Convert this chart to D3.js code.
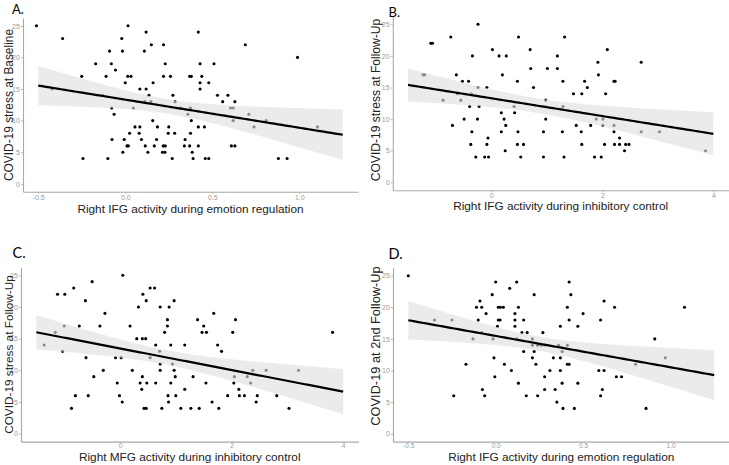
<!DOCTYPE html>
<html><head><meta charset="utf-8">
<script src="https://cdn.jsdelivr.net/npm/d3@7"></script>
<style>body{margin:0;background:#fff}svg{display:block}</style>
</head><body><svg id="c" width="729" height="465"></svg>
<script>
// ---------- DATA ----------
const xA=[-0.51,0.016, 0.12,0.42, -0.36,-0.02, 0.15,0.22,0.69, -0.09,-0.016,0.11, 0.99,
 -0.17,-0.08,0.23,0.43,0.51, -0.056,
 -0.25,-0.11,0.014,0.033,0.22,0.26,0.37,0.38,0.44,
 0.0,0.16,0.43,0.48, -0.42,0.084,0.12,0.43,
 -0.13,0.136,0.274,0.53,0.59, 0.113,0.148,0.286,0.56,0.63,
 -0.078,0.047,0.294,0.315,0.375,0.605,0.62, -0.064,0.36,0.71,
 0.158,0.38,0.62,0.81, 0.056,0.084,0.185,0.25,0.42,0.455,0.74,1.105,
 0.025,0.08,0.247,0.284,0.375, -0.076,-0.006,0.093,0.18,0.344,
 0.01,0.018,0.115,0.167,0.218,0.23,0.34,0.37,0.42,0.61,0.63,
 -0.014,0.13,0.214,0.228,0.385, -0.243,-0.1,0.27,0.39,0.46,0.48,0.88,0.93];
const yA=[25,25, 24,24, 23,23, 22,22,22, 21,21,21, 20,
 19,19,19,19,19, 18,
 17,17,17,17,17,17,17,17,17,
 16,16,16,16, 15,15,15,15,
 14,14,14,14,14, 13,13,13,13,13,
 12,12,12,12,12,12,12, 11,11,11,
 10,10,10,10, 9,9,9,9,9,9,9,9,
 8,8,8,8,8, 7,7,7,7,7,
 6,6,6,6,6,6,6,6,6,6,6,
 5,5,5,5,5, 4,4,4,4,4,4,4,4];

const xB=[-0.24, -0.73,0.49,1.32, -1.09,-1.06, 0.02,0.70,2.09, -0.34,0.14,0.27,1.19,
 1.92,2.70, 0.71,1.01,1.19, -1.23,-1.2,-0.63,0.2,1.93,
 -0.52,-0.41,0.47,1.29,1.68,2.21,2.23, -0.24,-0.08,0.76,1.73,
 -0.61,-0.36,1.48,1.63,2.06, -0.87,-0.55,0.98, -0.39,-0.22,0.41,1.29, 0.18,0.42,
 -0.49,-0.25,0.23,0.98,1.89,2.01, -0.70,0.26,1.53,1.79,2.01,2.21,
 -0.35,0.18,0.48,0.94,1.28,1.62,2.21,2.70,3.03, -0.06,2.31,
 -0.37,-0.08,0.47,0.58,1.63,2.04,2.22,2.31,2.42,2.48,
 0.25,2.40,3.86, -0.28,-0.12,-0.05,0.53,0.94,1.31,1.86,1.98];
const yB=[25, 23,23,23, 22,22, 21,21,21, 20,20,20,20,
 19,19, 18,18,18, 17,17,17,17,17,
 16,16,16,16,16,16,16, 15,15,15,15,
 14,14,14,14,14, 13,13,13, 12,12,12,12, 11,11,
 10,10,10,10,10,10, 9,9,9,9,9,9,
 8,8,8,8,8,8,8,8,8, 7,7,
 6,6,6,6,6,6,6,6,6,6,
 5,5,5, 4,4,4,4,4,4,4,4];

const xC=[0.05, -0.5, -0.83,0.54,0.62, -1.12,-0.99,0.41, -0.62,0.47,0.97, 0.33,0.72,0.88,
 -0.27,1.68, 0.85,1.39,2.07, -1.0,-0.73,-0.36,0.18,0.85,1.5,
 -1.16,0.80,1.47,1.55,2.02,3.81, 0.30,0.40,0.46,
 -1.36,0.64,0.91,1.16,1.75, -1.03,0.71,1.82, -0.61,-0.08,0.02,0.54, 0.72,0.94,
 -0.30,0.22,0.72,0.97,2.38,2.62,3.20, -0.47,0.40,0.99,1.31,2.05,2.28,
 -0.05,0.36,0.48,0.64,0.91,1.54,2.04,2.34, 0.39,1.16,2.13,
 -0.80,-0.57,-0.01,0.86,1.0,1.93,2.14,2.23,2.46,2.81,
 0.04,0.87,1.65,2.44, -0.87,0.43,0.47,0.75,1.09,1.27,1.42,1.77,3.03];
const yC=[25, 24, 23,23,23, 22,22,22, 21,21,21, 20,20,20,
 19,19, 18,18,18, 17,17,17,17,17,17,
 16,16,16,16,16,16, 15,15,15,
 14,14,14,14,14, 13,13,13, 12,12,12,12, 11,11,
 10,10,10,10,10,10,10, 9,9,9,9,9,9,
 8,8,8,8,8,8,8,8, 7,7,7,
 6,6,6,6,6,6,6,6,6,6,
 5,5,5,5, 4,4,4,4,4,4,4,4,4];

const xD=[-0.50, 0.0,0.12,0.42, 0.08, -0.02,0.22,0.43, -0.09,0.62,
 -0.11,-0.08,0.015,0.027,0.044,0.13,0.41,0.68,1.08, -0.055,0.11,0.50,
 -0.35,-0.25,-0.10,0.015,0.025,0.11,0.16,0.42,0.60, 0.01,0.11,0.37,0.47,
 -0.08,0.15,0.18,0.27, -0.13,-0.015,0.12,0.21,0.91,
 0.21,0.24,0.26,0.28,0.36,0.41, 0.16,0.22,0.38,
 -0.01,0.21,0.33,0.37,0.97, -0.17,0.05,0.23,0.41,0.42,0.80,
 0.09,0.31,0.37,0.59,0.62, -0.005,0.28,0.69,0.72, 0.13,0.38,0.47,
 -0.076,0.28,0.34,0.61, -0.24,-0.063,0.175,0.24,0.60, 0.35, 0.385,0.45,0.86];
const yD=[25, 24,24,24, 23, 22,22,22, 21,21,
 20,20,20,20,20,20,20,20,20, 19,19,19,
 18,18,18,18,18,18,18,18,18, 17,17,17,17,
 16,16,16,16, 15,15,15,15,15,
 14,14,14,14,14,14, 13,13,13,
 12,12,12,12,12, 11,11,11,11,11,11,
 10,10,10,10,10, 9,9,9,9, 8,8,8,
 7,7,7,7, 6,6,6,6,6, 5, 4,4,4];

const panelLetters=["A.","B.","C.","D."];
const xTitles=["Right IFG activity during emotion regulation","Right IFG activity during inhibitory control",
 "Right MFG activity during inhibitory control","Right IFG activity during emotion regulation"];
const yTitles=["COVID-19 stress at Baseline","COVID-19 stress at Follow-Up","COVID-19 stress at Follow-Up","COVID-19 at 2nd Follow-Up"];
const xTicksEmotion=[-0.5,0.0,0.5,1.0];
const xTicksInhib=[0,2,4];
const yTicks=[0,5,10,15,20,25];
const xLimitsEmotion=[-0.5,1.25];
const xLimitsInhib=[-1.5,4];
const yLimits=[0,25];

// ---------- LAYOUT ----------
const layout=[
 {xs:xA,ys:yA,lim:xLimitsEmotion,ticks:xTicksEmotion,dec:1, l:23,r:358, b:191.7,t:17.9,
  tk:{size:2,pad:1,fs:7},
  let:{x:12,y:13.8,fs:13}, xt:{y:212.5,fs:11.8}, yt:{x:12.5,cy:105,fs:11.9}},
 {xs:xB,ys:yB,lim:xLimitsInhib,ticks:xTicksInhib,dec:0, l:392.8,r:728.6, b:190.2,t:16.4,
  tk:{size:2,pad:1,fs:7},
  let:{x:388.5,y:16.8,fs:13}, xt:{y:209.5,fs:11.8}, yt:{x:379.5,cy:100,fs:12.1}},
 {xs:xC,ys:yC,lim:xLimitsInhib,ticks:xTicksInhib,dec:0, l:21,r:358.5, b:441.6,t:267.4,
  tk:{size:1.5,pad:0.5,fs:6.5},
  let:{x:12.5,y:257.5,fs:14.5}, xt:{y:460.5,fs:11.8}, yt:{x:12.5,cy:354.5,fs:11.8}},
 {xs:xD,ys:yD,lim:xLimitsEmotion,ticks:xTicksEmotion,dec:1, l:393,r:729.5, b:441.6,t:267.8,
  tk:{size:1.5,pad:0.5,fs:6.5},
  let:{x:388.5,y:259,fs:14.5}, xt:{y:460.5,fs:11.8}, yt:{x:380,cy:346,fs:12.8}},
];

const svg=d3.select("#c");
const FONT="'Liberation Sans', Arial, sans-serif";

function fitLM(xs,ys){
  const n=xs.length, mx=d3.mean(xs), my=d3.mean(ys);
  let sxx=0,sxy=0; xs.forEach((x,i)=>{sxx+=(x-mx)*(x-mx); sxy+=(x-mx)*(ys[i]-my);});
  const b=sxy/sxx, a=my-b*mx;
  let sse=0; xs.forEach((x,i)=>{const e=ys[i]-a-b*x; sse+=e*e;});
  const s=Math.sqrt(sse/(n-2)), tq=1.98;
  return x=>{const yh=a+b*x, se=s*Math.sqrt(1/n+(x-mx)*(x-mx)/sxx); return {x, y:yh, lo:yh-tq*se, hi:yh+tq*se};};
}

layout.forEach((p,i)=>{
  const span=p.lim[1]-p.lim[0], ex=span*0.05;
  const x=d3.scaleLinear().domain([p.lim[0]-ex,p.lim[1]+ex]).range([p.l,p.r]);
  const y=d3.scaleLinear().domain([yLimits[0]-1.25,yLimits[1]+1.25]).range([p.b,p.t]);
  const g=svg.append("g");

  // points (drawn first, the ribbon lies over them like ggplot)
  g.append("g").selectAll("circle").data(p.xs.map((v,k)=>[v,p.ys[k]])).join("circle")
    .attr("cx",d=>x(d[0])).attr("cy",d=>y(d[1])).attr("r",1.55).attr("fill","#000");

  // smooth (lm with 95% CI over the full x range)
  const f=fitLM(p.xs,p.ys);
  const pts=d3.range(0,81).map(k=>f(p.lim[0]+span*k/80));
  g.append("path").datum(pts).attr("d",d3.area().x(d=>x(d.x)).y0(d=>y(d.lo)).y1(d=>y(d.hi)))
    .attr("fill","#dedede").attr("fill-opacity",0.62);
  g.append("path").datum(pts).attr("d",d3.line().x(d=>x(d.x)).y(d=>y(d.y)))
    .attr("fill","none").attr("stroke","#000").attr("stroke-width",2.2);

  // axes
  const fmt=v=>(v<0?"-":"")+Math.abs(v).toFixed(p.dec);
  const xa=g.append("g").attr("transform",`translate(0,${p.b})`)
    .call(d3.axisBottom(x).tickValues(p.ticks).tickFormat(fmt).tickSize(p.tk.size).tickPadding(p.tk.pad).tickSizeOuter(0));
  const ya=g.append("g").attr("transform",`translate(${p.l},0)`)
    .call(d3.axisLeft(y).tickValues(yTicks).tickFormat(d3.format("d")).tickSize(2).tickPadding(1.2).tickSizeOuter(0));
  xa.selectAll(".tick text").attr("font-size",p.tk.fs);
  ya.selectAll(".tick text").attr("font-size",7);
  [xa,ya].forEach(a=>{
    a.select(".domain").attr("stroke","#a9a9a9").attr("stroke-width",1.1);
    a.selectAll(".tick line").attr("stroke","#b5b5b5");
    a.selectAll(".tick text").attr("fill","#9a9a9a").attr("font-family",FONT);
  });

  // titles
  svg.append("text").attr("x",(p.l+p.r)/2).attr("y",p.xt.y).attr("text-anchor","middle")
    .attr("font-family",FONT).attr("font-size",p.xt.fs).attr("fill","#222").text(xTitles[i]);
  svg.append("text").attr("transform",`translate(${p.yt.x},${p.yt.cy}) rotate(-90)`).attr("text-anchor","middle")
    .attr("font-family",FONT).attr("font-size",p.yt.fs).attr("fill","#222").text(yTitles[i]);
  svg.append("text").attr("x",p.let.x).attr("y",p.let.y).attr("font-family","Lato, 'Open Sans', sans-serif")
    .attr("font-size",p.let.fs).attr("fill","#000").text(panelLetters[i]);
});
</script></body></html>
